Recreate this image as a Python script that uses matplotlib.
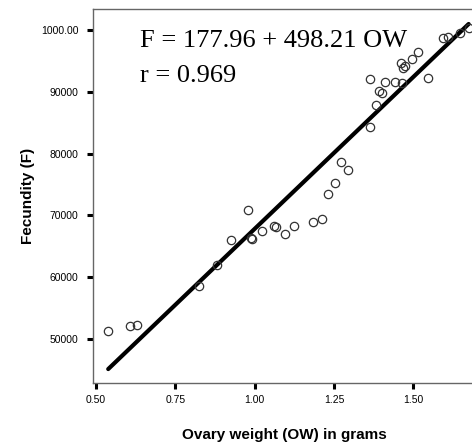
import matplotlib
matplotlib.use("Agg")
import matplotlib.pyplot as plt

# ovary weight (g) and fecundity
ovary_weight = [
    0.538, 0.606, 0.629, 0.823, 0.880, 0.924, 0.980, 0.988, 0.990, 1.022,
    1.060, 1.067, 1.094, 1.122, 1.184, 1.212, 1.232, 1.253, 1.272, 1.293,
    1.363, 1.383, 1.393, 1.401, 1.363, 1.411, 1.441, 1.464, 1.462, 1.467,
    1.472, 1.494, 1.515, 1.546, 1.594, 1.610, 1.647, 1.676,
]
fecundity = [
    51340, 52150, 52300, 58580, 61920, 66020, 70920, 66390, 66130, 67530,
    68330, 68070, 67040, 68330, 68980, 69470, 73510, 75240, 78690, 77300,
    84250, 87860, 90190, 89860, 92070, 91630, 91630, 91400, 94610, 93800,
    94200, 95260, 96440, 92290, 98660, 98930, 99460, 100270,
]

# fitted line end points
fit_x = [0.538, 1.674]
fit_y = [45150, 100970]

x_ticks = [0.50, 0.75, 1.00, 1.25, 1.50]
x_tick_labels = ["0.50", "0.75", "1.00", "1.25", "1.50"]
y_ticks = [50000, 60000, 70000, 80000, 90000, 100000]
y_tick_labels = ["50000", "60000", "70000", "80000", "90000", "1000.00"]

fig = plt.figure(figsize=(4.72, 4.46), dpi=100)
ax = fig.add_axes([0.197, 0.1413, 0.81, 0.8386])

ax.plot(fit_x, fit_y, color="black", linewidth=3, solid_capstyle="round", zorder=2)
ax.plot(ovary_weight, fecundity, linestyle="none", marker="o", markersize=6,
        markerfacecolor="none", markeredgecolor="#333333", markeredgewidth=0.9, zorder=3)

ax.set_xlim(0.49, 1.695)
ax.set_ylim(42900, 103400)
ax.set_xticks(x_ticks)
ax.set_xticklabels(x_tick_labels)
ax.set_yticks(y_ticks)
ax.set_yticklabels(y_tick_labels)
ax.tick_params(direction="out", length=4.5, width=2.2, color="black", labelsize=7.5)
ax.tick_params(axis="x", pad=4)
ax.tick_params(axis="y", pad=6)
for lab in ax.get_xticklabels() + ax.get_yticklabels():
    lab.set_family("Liberation Sans")

for s in ax.spines.values():
    s.set_color("#666666")
    s.set_linewidth(1.0)

ax.set_xlabel("Ovary weight (OW) in grams", fontsize=11, fontweight="bold",
              family="Liberation Sans", labelpad=17)
ax.set_ylabel("Fecundity (F)", fontsize=11, fontweight="bold",
              family="Liberation Sans", labelpad=4)

fig.text(0.2966, 0.8953, "F = 177.96 + 498.21 OW", fontsize=19,
         family="Liberation Serif", va="baseline")
fig.text(0.2966, 0.8168, "r = 0.969", fontsize=19,
         family="Liberation Serif", va="baseline")

fig.savefig("out.png", dpi=100)
